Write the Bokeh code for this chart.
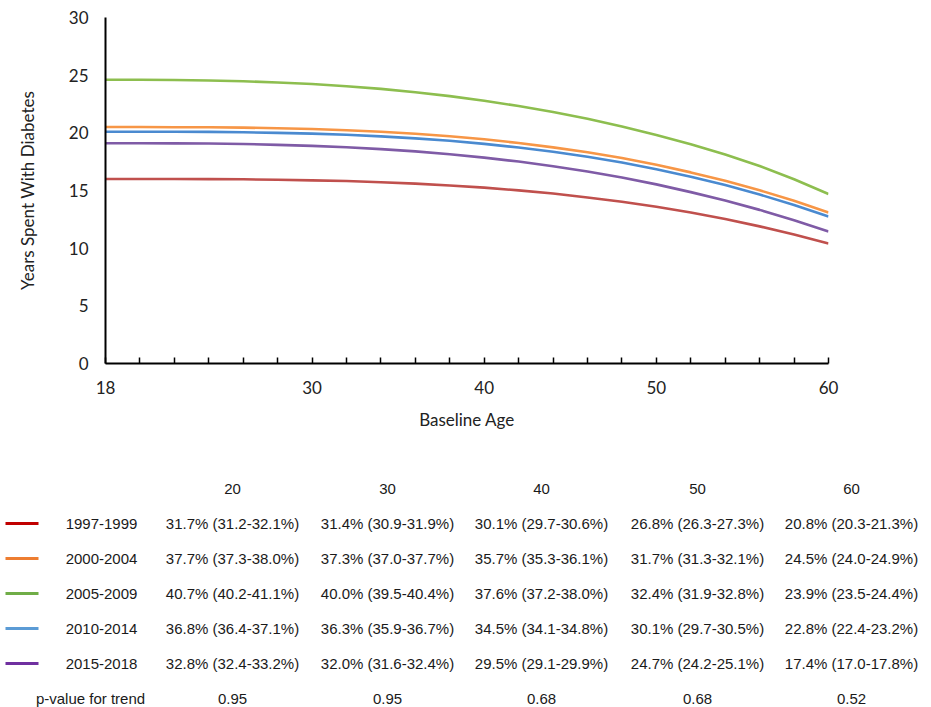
from bokeh.plotting import figure
from bokeh.models import Range1d, FixedTicker
from bokeh.embed import file_html
from bokeh.resources import INLINE
from bokeh.core.properties import value

# ---------------- data ----------------
ages = [18, 20, 22, 24, 26, 28, 30, 32, 34, 36, 38, 40, 42, 44, 46, 48, 50, 52, 54, 56, 58, 60]
yrs_1997_1999 = [16.00, 16.00, 16.00, 15.99, 15.97, 15.93, 15.88, 15.82, 15.72, 15.60, 15.44,
                 15.25, 15.01, 14.74, 14.40, 14.03, 13.59, 13.09, 12.53, 11.89, 11.19, 10.40]
yrs_2000_2004 = [20.50, 20.50, 20.49, 20.48, 20.45, 20.40, 20.33, 20.23, 20.09, 19.92, 19.70,
                 19.44, 19.12, 18.74, 18.31, 17.81, 17.23, 16.57, 15.84, 15.02, 14.11, 13.10]
yrs_2005_2009 = [24.60, 24.60, 24.58, 24.54, 24.47, 24.37, 24.23, 24.04, 23.81, 23.52, 23.18,
                 22.78, 22.32, 21.80, 21.22, 20.55, 19.82, 19.02, 18.12, 17.12, 15.98, 14.70]
yrs_2010_2014 = [20.10, 20.10, 20.09, 20.08, 20.05, 20.00, 19.93, 19.83, 19.69, 19.52, 19.31,
                 19.04, 18.73, 18.36, 17.92, 17.43, 16.85, 16.20, 15.47, 14.65, 13.75, 12.75]
yrs_2015_2018 = [19.10, 19.10, 19.09, 19.07, 19.03, 18.96, 18.87, 18.75, 18.59, 18.39, 18.14,
                 17.85, 17.51, 17.11, 16.64, 16.12, 15.53, 14.86, 14.13, 13.32, 12.43, 11.45]

periods = ["1997-1999", "2000-2004", "2005-2009", "2010-2014", "2015-2018"]
curve_colors = ["#C0504D", "#F79646", "#8DBE4F", "#4A8AD0", "#7F5BA6"]
legend_colors = ["#C00000", "#ED7D31", "#70AD47", "#5B9BD5", "#7030A0"]

x_tick_values = [18, 30, 40, 50, 60]
x_minor_ticks = [20, 22, 24, 26, 28, 32, 34, 36, 38, 42, 44, 46, 48, 52, 54, 56, 58]
y_tick_values = [0, 5, 10, 15, 20, 25, 30]

table_header = ["20", "30", "40", "50", "60"]
table_1997_1999 = ["31.7% (31.2-32.1%)", "31.4% (30.9-31.9%)", "30.1% (29.7-30.6%)", "26.8% (26.3-27.3%)", "20.8% (20.3-21.3%)"]
table_2000_2004 = ["37.7% (37.3-38.0%)", "37.3% (37.0-37.7%)", "35.7% (35.3-36.1%)", "31.7% (31.3-32.1%)", "24.5% (24.0-24.9%)"]
table_2005_2009 = ["40.7% (40.2-41.1%)", "40.0% (39.5-40.4%)", "37.6% (37.2-38.0%)", "32.4% (31.9-32.8%)", "23.9% (23.5-24.4%)"]
table_2010_2014 = ["36.8% (36.4-37.1%)", "36.3% (35.9-36.7%)", "34.5% (34.1-34.8%)", "30.1% (29.7-30.5%)", "22.8% (22.4-23.2%)"]
table_2015_2018 = ["32.8% (32.4-33.2%)", "32.0% (31.6-32.4%)", "29.5% (29.1-29.9%)", "24.7% (24.2-25.1%)", "17.4% (17.0-17.8%)"]
p_label = "p-value for trend"
p_values = ["0.95", "0.95", "0.68", "0.68", "0.52"]

series = [yrs_1997_1999, yrs_2000_2004, yrs_2005_2009, yrs_2010_2014, yrs_2015_2018]
table_rows = [table_1997_1999, table_2000_2004, table_2005_2009, table_2010_2014, table_2015_2018]

# ---------------- chart ----------------
CHART_FONT = "Lato"
p1 = figure(width=931, height=440, x_range=Range1d(18, 60), y_range=Range1d(0, 30),
            output_backend="svg", toolbar_location=None,
            min_border_left=105, min_border_right=103, min_border_top=17, min_border_bottom=77)
p1.outline_line_color = None
p1.xgrid.visible = False
p1.ygrid.visible = False

for ys, c in zip(series, curve_colors):
    p1.line(ages, ys, line_color=c, line_width=2.6)

xa = p1.xaxis[0]
xa.ticker = FixedTicker(ticks=x_tick_values, minor_ticks=x_minor_ticks)
xa.major_tick_in = 6
xa.major_tick_out = 0
xa.minor_tick_in = 6
xa.minor_tick_out = 0
xa.axis_line_width = 2
xa.major_tick_line_width = 1.5
xa.minor_tick_line_width = 1.5
xa.axis_line_color = "black"
xa.major_tick_line_color = "black"
xa.minor_tick_line_color = "black"
xa.major_label_text_font = CHART_FONT
xa.major_label_text_font_size = "17px"
xa.major_label_text_color = "#222222"
xa.major_label_standoff = 17
xa.axis_label = "Baseline Age"
xa.axis_label_text_font = CHART_FONT
xa.axis_label_text_font_size = "17px"
xa.axis_label_text_font_style = "normal"
xa.axis_label_text_color = "#222222"
xa.axis_label_standoff = 12

ya = p1.yaxis[0]
ya.ticker = FixedTicker(ticks=y_tick_values)
ya.major_tick_in = 0
ya.major_tick_out = 0
ya.minor_tick_line_color = None
ya.axis_line_width = 2
ya.axis_line_color = "black"
ya.major_label_text_font = CHART_FONT
ya.major_label_text_font_size = "17px"
ya.major_label_text_color = "#222222"
ya.major_label_standoff = 17
ya.axis_label = "Years Spent With Diabetes"
ya.axis_label_text_font = CHART_FONT
ya.axis_label_text_font_size = "17px"
ya.axis_label_text_font_style = "normal"
ya.axis_label_text_color = "#222222"
ya.axis_label_standoff = 28

# ---------------- table ----------------
TH = 267
p2 = figure(width=931, height=TH, x_range=Range1d(0, 931), y_range=Range1d(TH, 0),
            output_backend="svg", toolbar_location=None,
            x_axis_type=None, y_axis_type=None,
            min_border=0, min_border_left=0, min_border_right=0, min_border_top=0, min_border_bottom=0)
p2.outline_line_color = None
p2.xgrid.visible = False
p2.ygrid.visible = False

TFONT = value("Liberation Sans")
FS = "15px"
TCOL = "#1a1a1a"
col_x = [232, 387, 541, 697, 851]
header_y = 48
row_gap = 35
label_x = 101
row_y = [header_y + row_gap * (i + 1) for i in range(len(periods))]
p_y = header_y + row_gap * (len(periods) + 1)

p2.text(x=col_x, y=[header_y] * len(col_x), text=table_header, text_font=TFONT,
        text_font_size=FS, text_align="center", text_baseline="middle", text_color=TCOL)

p2.segment(x0=[5] * len(periods), y0=row_y, x1=[38] * len(periods), y1=row_y,
           line_color=legend_colors, line_width=3)

p2.text(x=[label_x] * len(periods), y=row_y, text=periods, text_font=TFONT,
        text_font_size=FS, text_align="center", text_baseline="middle", text_color=TCOL)

xs, ys, ts = [], [], []
for ry, row in zip(row_y, table_rows):
    for cx, t in zip(col_x, row):
        xs.append(cx); ys.append(ry); ts.append(t)
p2.text(x=xs, y=ys, text=ts, text_font=TFONT, text_font_size=FS,
        text_align="center", text_baseline="middle", text_color=TCOL)

p2.text(x=[90], y=[p_y], text=[p_label], text_font=TFONT, text_font_size=FS,
        text_align="center", text_baseline="middle", text_color=TCOL)
p2.text(x=col_x, y=[p_y] * len(col_x), text=p_values, text_font=TFONT, text_font_size=FS,
        text_align="center", text_baseline="middle", text_color=TCOL)

open("out.html", "w").write(file_html([p1, p2], INLINE))
